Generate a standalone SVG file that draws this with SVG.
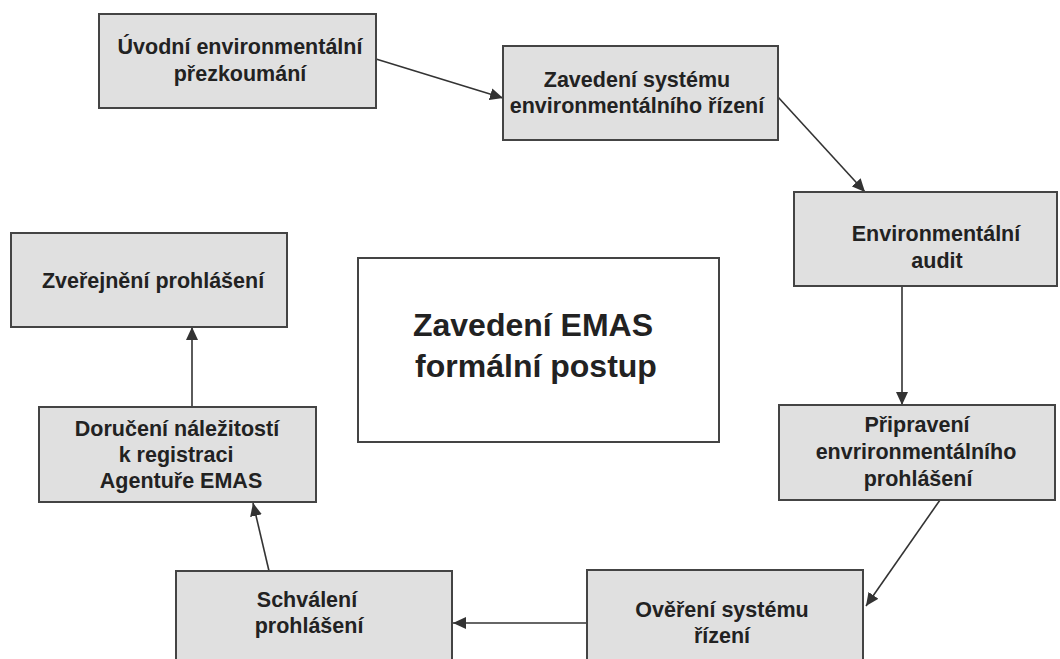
<svg xmlns="http://www.w3.org/2000/svg" width="1060" height="659" viewBox="0 0 1060 659">
<style>
.box{fill:#e0e0e0;stroke:#444;stroke-width:2}
.main{fill:#fff;stroke:#444;stroke-width:2}
text{font-family:"Liberation Sans",Arial,sans-serif;font-weight:bold;fill:#222;text-anchor:middle}
.t{font-size:21.5px}
.big{font-size:32px}
.conn line{stroke:#333;stroke-width:1.6;marker-end:url(#arr)}
</style>
<defs>
<marker id="arr" markerUnits="userSpaceOnUse" markerWidth="14" markerHeight="12" refX="13" refY="6" orient="auto">
<path d="M0,0 L13,6 L0,12 Z" fill="#333"/>
</marker>
</defs>
<rect width="1060" height="659" fill="#fff"/>
<g class="conn">
<line x1="376" y1="59" x2="503" y2="98"/>
<line x1="778" y1="97" x2="865" y2="192"/>
<line x1="902" y1="287" x2="902" y2="405"/>
<line x1="940" y1="500" x2="866" y2="606"/>
<line x1="587" y1="623" x2="453" y2="623"/>
<line x1="269" y1="571" x2="253" y2="503"/>
<line x1="192" y1="408" x2="192" y2="327"/>
</g>
<g id="n1"><rect class="box" x="99" y="14" width="277" height="94"/>
<text class="t" x="240" y="54">Úvodní environmentální</text>
<text class="t" x="240" y="81">přezkoumání</text></g>
<g id="n2"><rect class="box" x="503" y="46" width="275" height="94"/>
<text class="t" x="637" y="87">Zavedení systému</text>
<text class="t" x="637" y="113">environmentálního řízení</text></g>
<g id="n3"><rect class="box" x="794" y="192" width="263" height="94"/>
<text class="t" x="936" y="241">Environmentální</text>
<text class="t" x="937" y="268">audit</text></g>
<g id="n4"><rect class="box" x="779" y="405" width="276" height="95"/>
<text class="t" x="917" y="432">Připravení</text>
<text class="t" x="916" y="459">envrironmentálního</text>
<text class="t" x="918" y="486">prohlášení</text></g>
<g id="n5"><rect class="box" x="587" y="570" width="276" height="100"/>
<text class="t" x="722" y="617">Ověření systému</text>
<text class="t" x="722" y="643">řízení</text></g>
<g id="n6"><rect class="box" x="176" y="571" width="276" height="100"/>
<text class="t" x="307" y="607">Schválení</text>
<text class="t" x="309" y="633">prohlášení</text></g>
<g id="n7"><rect class="box" x="39" y="407" width="277" height="95"/>
<text class="t" x="177" y="436">Doručení náležitostí</text>
<text class="t" x="176" y="462">k registraci</text>
<text class="t" x="181" y="488">Agentuře EMAS</text></g>
<g id="n8"><rect class="box" x="11" y="233" width="276" height="94"/>
<text class="t" x="153" y="288">Zveřejnění prohlášení</text></g>
<g id="center"><rect class="main" x="358" y="258" width="361" height="184"/>
<text class="big" x="533" y="336">Zavedení EMAS</text>
<text class="big" x="536" y="377">formální postup</text></g>
</svg>
